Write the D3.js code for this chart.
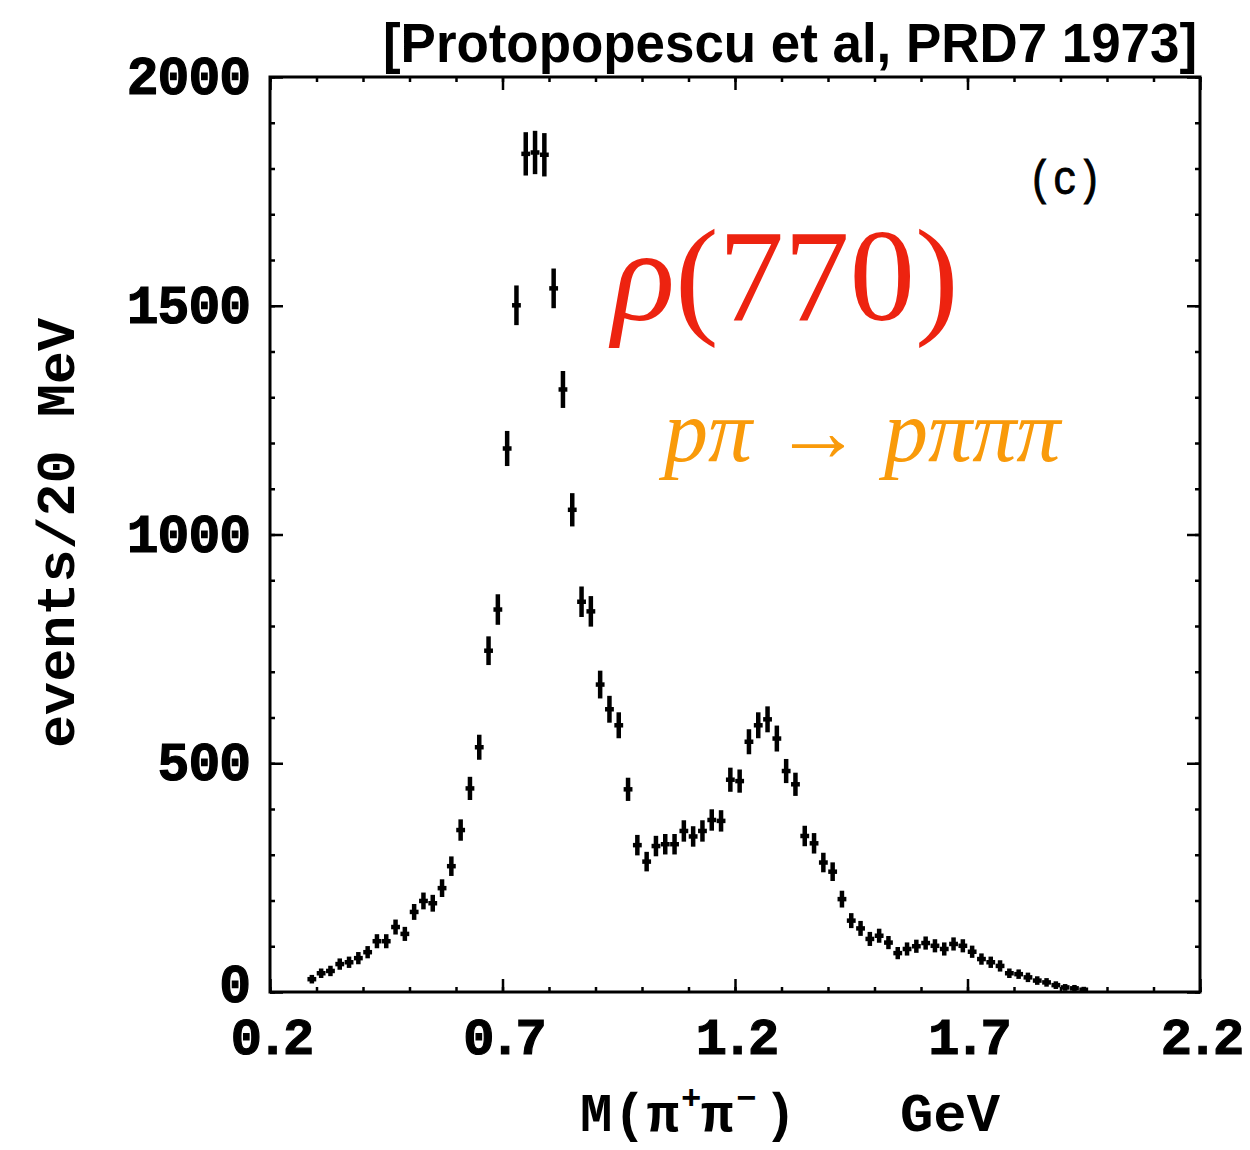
<!DOCTYPE html>
<html>
<head>
<meta charset="utf-8">
<script src="https://cdnjs.cloudflare.com/ajax/libs/d3/7.8.5/d3.min.js"></script>
<style>
body { margin: 0; background: #fff; }
.tick text { display: none; }
.domain { display: none; }
</style>
</head>
<body>
<div id="chart"></div>
<script>
var width = 1250;
var height = 1150;

// bin centres (GeV), 20 MeV bins
var masses = [0.29, 0.31, 0.33, 0.35, 0.37, 0.39, 0.41, 0.43, 0.45, 0.47,
    0.49, 0.51, 0.53, 0.55, 0.57, 0.59, 0.61, 0.63, 0.65, 0.67,
    0.69, 0.71, 0.73, 0.75, 0.77, 0.79, 0.81, 0.83, 0.85, 0.87,
    0.89, 0.91, 0.93, 0.95, 0.97, 0.99, 1.01, 1.03, 1.05, 1.07,
    1.09, 1.11, 1.13, 1.15, 1.17, 1.19, 1.21, 1.23, 1.25, 1.27,
    1.29, 1.31, 1.33, 1.35, 1.37, 1.39, 1.41, 1.43, 1.45, 1.47,
    1.49, 1.51, 1.53, 1.55, 1.57, 1.59, 1.61, 1.63, 1.65, 1.67,
    1.69, 1.71, 1.73, 1.75, 1.77, 1.79, 1.81, 1.83, 1.85, 1.87,
    1.89, 1.91, 1.93, 1.95];

// events per bin
var counts = [28, 41, 46, 61, 65, 74, 87, 111, 111, 142,
    127, 175, 199, 194, 227, 275, 354, 445, 535, 746,
    836, 1188, 1501, 1832, 1835, 1830, 1538, 1317, 1054, 853,
    832, 672, 618, 583, 443, 321, 285, 319, 323, 323,
    352, 340, 352, 376, 374, 464, 461, 547, 583, 596,
    554, 483, 454, 341, 325, 283, 263, 203, 156, 139,
    116, 123, 108, 85, 94, 100, 107, 101, 94, 105,
    101, 88, 72, 65, 57, 41, 39, 32, 25, 21,
    15, 10, 8, 5];

// vertical error per bin
var errors = [5, 6, 7, 8, 8, 9, 9, 11, 11, 12,
    11, 13, 14, 14, 15, 17, 19, 21, 23, 27,
    29, 34, 39, 43, 43, 43, 39, 36, 32, 29,
    29, 26, 25, 24, 21, 18, 17, 18, 18, 18,
    19, 18, 19, 19, 19, 22, 21, 23, 24, 24,
    24, 22, 21, 18, 18, 17, 16, 14, 12, 12,
    11, 11, 10, 9, 10, 10, 10, 10, 10, 10,
    10, 9, 8, 8, 8, 6, 6, 6, 5, 5,
    4, 3, 3, 2];

var xTickValues = [0.2, 0.7, 1.2, 1.7, 2.2];
var xTickLabels = ["0.2", "0.7", "1.2", "1.7", "2.2"];
var yTickValues = [0, 500, 1000, 1500, 2000];
var yTickLabels = ["0", "500", "1000", "1500", "2000"];

var data = masses.map(function(m, i) {
    return {m: m, n: counts[i], e: errors[i]};
});

var x = d3.scaleLinear().domain([0.2, 2.2]).range([270, 1200]);
var y = d3.scaleLinear().domain([0, 2000]).range([992, 77]);

var svg = d3.select("#chart").append("svg")
    .attr("width", width)
    .attr("height", height);

var minorX = d3.range(0.2, 2.25, 0.1).map(function(d) { return +d.toFixed(1); });
var minorY = d3.range(0, 2001, 100);

// axes on all four sides, ticks pointing inward
function addAxis(axisFn, scale, ticks, size, transform) {
    svg.append("g")
        .attr("transform", transform)
        .call(axisFn(scale).tickValues(ticks).tickSize(-size).tickSizeOuter(0).tickFormat(""))
        .selectAll("line")
        .attr("stroke", "#000")
        .attr("stroke-width", 2.5);
}

addAxis(d3.axisBottom, x, minorX, 5, "translate(0,992)");
addAxis(d3.axisBottom, x, xTickValues, 13, "translate(0,992)");
addAxis(d3.axisTop, x, minorX, 5, "translate(0,77)");
addAxis(d3.axisTop, x, xTickValues, 13, "translate(0,77)");
addAxis(d3.axisLeft, y, minorY, 5, "translate(270,0)");
addAxis(d3.axisLeft, y, yTickValues, 13, "translate(270,0)");
addAxis(d3.axisRight, y, minorY, 5, "translate(1200,0)");
addAxis(d3.axisRight, y, yTickValues, 13, "translate(1200,0)");

// frame
svg.append("rect")
    .attr("x", x(0.2))
    .attr("y", y(2000))
    .attr("width", x(2.2) - x(0.2))
    .attr("height", y(0) - y(2000))
    .attr("fill", "none")
    .attr("stroke", "#000")
    .attr("stroke-width", 3);

// tick labels
svg.selectAll(".xlab")
    .data(xTickValues)
    .enter().append("text")
    .attr("class", "xlab")
    .attr("x", d => x(d))
    .attr("y", 1054)
    .attr("text-anchor", "middle")
    .attr("font-family", "Liberation Mono, monospace")
    .attr("font-weight", "bold")
    .attr("font-size", 52)
    .attr("letter-spacing", -5)
    .attr("stroke", "#000")
    .attr("stroke-width", 1.2)
    .text((d, i) => xTickLabels[i]);

svg.selectAll(".ylab")
    .data(yTickValues)
    .enter().append("text")
    .attr("class", "ylab")
    .attr("x", 250)
    .attr("y", d => Math.min(y(d) + 17, 1002))
    .attr("text-anchor", "end")
    .attr("font-family", "Liberation Mono, monospace")
    .attr("font-weight", "bold")
    .attr("font-size", 53)
    .attr("letter-spacing", -1)
    .attr("stroke", "#000")
    .attr("stroke-width", 1.2)
    .text((d, i) => yTickLabels[i]);

// axis titles
svg.append("text")
    .attr("transform", "translate(74,533) rotate(-90)")
    .attr("text-anchor", "middle")
    .attr("font-family", "Liberation Mono, monospace")
    .attr("font-weight", "bold")
    .attr("font-size", 54)
    .attr("textLength", 430)
    .attr("lengthAdjust", "spacingAndGlyphs")
    .text("events/20  MeV");

// M(pi+ pi-) built from pieces so the charges sit as superscripts
var titleBase = 1131;
var xTitleParts = [
    {t: "M(π", x: 580, dy: 0, size: 54},
    {t: "+", x: 681, dy: -22, size: 34},
    {t: "π", x: 701, dy: 0, size: 54},
    {t: "−", x: 736, dy: -22, size: 34},
    {t: ")", x: 764, dy: 0, size: 54}
];
svg.selectAll(".xtitle")
    .data(xTitleParts)
    .enter().append("text")
    .attr("class", "xtitle")
    .attr("x", d => d.x)
    .attr("y", d => titleBase + d.dy)
    .attr("font-family", "Liberation Mono, monospace")
    .attr("font-weight", "bold")
    .attr("font-size", d => d.size)
    .attr("letter-spacing", 1)
    .text(d => d.t);

svg.append("text")
    .attr("x", 900)
    .attr("y", titleBase)
    .attr("font-family", "Liberation Mono, monospace")
    .attr("font-weight", "bold")
    .attr("font-size", 54)
    .attr("textLength", 100)
    .attr("lengthAdjust", "spacingAndGlyphs")
    .text("GeV");

// citation
svg.append("text")
    .attr("x", 1197)
    .attr("y", 62)
    .attr("text-anchor", "end")
    .attr("font-family", "Liberation Sans, Arial, sans-serif")
    .attr("font-weight", "bold")
    .attr("font-size", 55)
    .attr("textLength", 814)
    .attr("lengthAdjust", "spacingAndGlyphs")
    .text("[Protopopescu et al, PRD7 1973]");

// panel label
svg.append("text")
    .attr("x", 1028)
    .attr("y", 194)
    .attr("font-family", "Liberation Mono, monospace")
    .attr("font-size", 48)
    .attr("stroke", "#000")
    .attr("stroke-width", 0.9)
    .attr("textLength", 74)
    .attr("lengthAdjust", "spacingAndGlyphs")
    .text("(c)");

// annotations
var rho = svg.append("text")
    .attr("x", 612)
    .attr("y", 320)
    .attr("font-family", "Liberation Serif, Times New Roman, serif")
    .attr("font-size", 131)
    .attr("fill", "#ED2310");
rho.append("tspan").attr("font-style", "italic").text("ρ");
rho.append("tspan").text("(770)");

var proc = svg.append("text")
    .attr("x", 664)
    .attr("y", 461)
    .attr("font-family", "Liberation Serif, Times New Roman, serif")
    .attr("font-size", 88)
    .attr("fill", "#F99A0A");
proc.append("tspan").attr("font-style", "italic").text("pπ");
proc.append("tspan").text(" → ");
proc.append("tspan").attr("font-style", "italic").text("pπππ");

// data points with error bars
var pts = svg.append("g").attr("class", "points")
    .selectAll("g")
    .data(data)
    .enter().append("g");

pts.append("line")
    .attr("x1", d => x(d.m))
    .attr("x2", d => x(d.m))
    .attr("y1", d => y(d.n - d.e) + 2)
    .attr("y2", d => y(d.n + d.e) - 2)
    .attr("stroke", "#000")
    .attr("stroke-width", 4.5);

pts.append("line")
    .attr("x1", d => x(d.m - 0.0095))
    .attr("x2", d => x(d.m + 0.0095))
    .attr("y1", d => y(d.n))
    .attr("y2", d => y(d.n))
    .attr("stroke", "#000")
    .attr("stroke-width", 4.5);
</script>
</body>
</html>
